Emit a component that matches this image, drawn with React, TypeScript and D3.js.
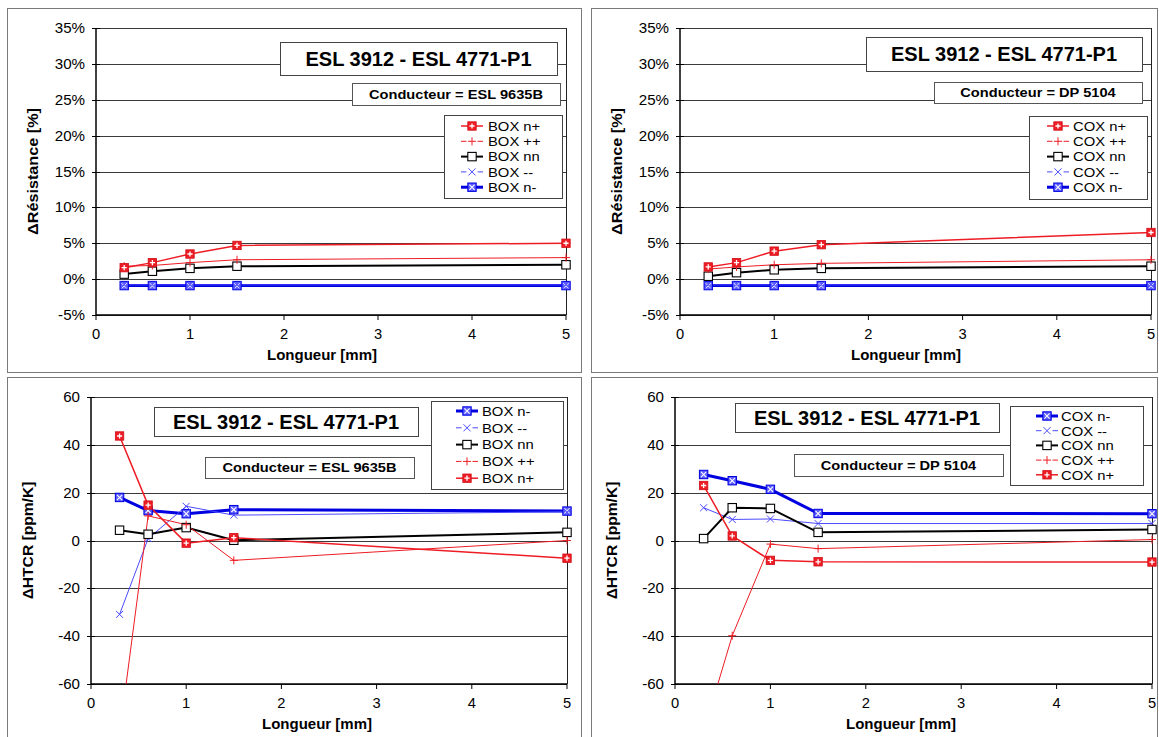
import React from 'react';
import * as d3 from 'd3';

// ---------- data ----------
const lengths = [0.3, 0.6, 1, 1.5, 5];
const xTicks = [0, 1, 2, 3, 4, 5];
const resTicks = [-5, 0, 5, 10, 15, 20, 25, 30, 35];
const htcrTicks = [-60, -40, -20, 0, 20, 40, 60];

const chartTitle = 'ESL 3912 - ESL 4771-P1';
const xTitle = 'Longueur [mm]';
const resTitle = 'ΔRésistance [%]';
const htcrTitle = 'ΔHTCR [ppm/K]';

// BOX - ΔRésistance [%]
const boxResNplus = [1.6, 2.3, 3.5, 4.7, 5.0];
const boxResPlusPlus = [1.8, 1.9, 2.3, 2.7, 3.0];
const boxResNN = [0.7, 1.1, 1.5, 1.8, 2.0];
const boxResMinusMinus = [-0.8, -0.8, -0.8, -0.8, -0.8];
const boxResNminus = [-0.9, -0.9, -0.9, -0.9, -0.9];

// COX - ΔRésistance [%]
const coxResNplus = [1.7, 2.3, 3.9, 4.8, 6.5];
const coxResPlusPlus = [1.4, 1.7, 2.0, 2.2, 2.7];
const coxResNN = [0.4, 0.9, 1.3, 1.5, 1.8];
const coxResMinusMinus = [-0.8, -0.8, -0.8, -0.8, -0.8];
const coxResNminus = [-0.9, -0.9, -0.9, -0.9, -0.9];

// BOX - ΔHTCR [ppm/K]
const boxHtcrNminus = [18.0, 12.5, 11.2, 12.9, 12.3];
const boxHtcrMinusMinus = [-30.9, 0.8, 14.3, 10.6, 12.0];
const boxHtcrNN = [4.3, 2.6, 5.4, 0.1, 3.4];
const boxHtcrPlusPlus = [-81, 10.3, 6.6, -8.3, 0.0];
const boxHtcrNplus = [43.7, 14.8, -1.1, 1.2, -7.4];

// COX - ΔHTCR [ppm/K]
const coxHtcrNminus = [27.6, 25.0, 21.4, 11.3, 11.2];
const coxHtcrMinusMinus = [13.7, 8.8, 9.0, 7.1, 7.1];
const coxHtcrNN = [0.8, 13.7, 13.4, 3.4, 4.6];
const coxHtcrPlusPlus = [-80, -39.8, -1.5, -3.4, 0.4];
const coxHtcrNplus = [23.0, 1.9, -8.3, -8.9, -9.0];

const boxLabels = ['BOX n+', 'BOX ++', 'BOX nn', 'BOX --', 'BOX n-'];
const coxLabels = ['COX n+', 'COX ++', 'COX nn', 'COX --', 'COX n-'];
const conductors = ['Conducteur = ESL 9635B', 'Conducteur = DP 5104'];

// ---------- styles ----------
const FONT = '"Liberation Sans", Arial, Helvetica, sans-serif';
const RED = '#ee1c24';
const BLUE = '#0000e0';
const LBLUE = '#4a4aff';

type Kind = 'np' | 'pp' | 'nn' | 'mm' | 'nm';
const STYLE: Record<Kind, { color: string; width: number }> = {
  np: { color: RED, width: 1.5 },
  pp: { color: RED, width: 1 },
  nn: { color: '#000', width: 2 },
  mm: { color: LBLUE, width: 1 },
  nm: { color: BLUE, width: 3 },
};

function Marker({ kind, x, y }: { kind: Kind; x: number; y: number }) {
  const s = 4.2;
  if (kind === 'np')
    return (
      <g>
        <rect x={x - s} y={y - s} width={2 * s} height={2 * s} fill={RED} stroke="#d01018" strokeWidth={0.8} />
        <path d={`M${x - 2.6},${y}H${x + 2.6}M${x},${y - 2.6}V${y + 2.6}`} stroke="#fff" strokeWidth={1.3} />
      </g>
    );
  if (kind === 'pp')
    return <path d={`M${x - 4},${y}H${x + 4}M${x},${y - 4}V${y + 4}`} stroke={RED} strokeWidth={1} />;
  if (kind === 'nn')
    return <rect x={x - s} y={y - s} width={2 * s} height={2 * s} fill="#fff" stroke="#000" strokeWidth={1.1} />;
  if (kind === 'mm')
    return <path d={`M${x - 3.5},${y - 3.5}L${x + 3.5},${y + 3.5}M${x - 3.5},${y + 3.5}L${x + 3.5},${y - 3.5}`} stroke={LBLUE} strokeWidth={1} />;
  return (
    <g>
      <rect x={x - s} y={y - s} width={2 * s} height={2 * s} fill="#5c5cff" stroke={BLUE} strokeWidth={1} />
      <path d={`M${x - 2.6},${y - 2.6}L${x + 2.6},${y + 2.6}M${x - 2.6},${y + 2.6}L${x + 2.6},${y - 2.6}`} stroke="#fff" strokeWidth={1.1} />
    </g>
  );
}

function SText({ x, y, sx = 1, size, bold = false, anchor = 'start', rot = 0, children }: any) {
  return (
    <text
      transform={`translate(${x},${y}) rotate(${rot}) scale(${sx},1)`}
      fontSize={size}
      fontWeight={bold ? 'bold' : 'normal'}
      textAnchor={anchor}
      fontFamily={FONT}
      fill="#000"
    >
      {children}
    </text>
  );
}

type Series = { kind: Kind; label: string; values: number[] };
type Rect = { x: number; y: number; w: number; h: number };

type PanelProps = {
  id: string;
  frame: Rect;
  x0: number;
  x1: number;
  yTop: number;
  yBot: number;
  yTicks: number[];
  fmt: (v: number) => string;
  yTitle: string;
  yTitleSx: number;
  legendSeries: Series[];
  titleBox: Rect;
  condBox: Rect;
  condText: string;
  legend: Rect & { first: number; step: number; mx: number; tx: number };
};

function Panel(p: PanelProps) {
  const xs = d3.scaleLinear().domain([0, 5]).range([p.x0, p.x1]);
  const ys = d3.scaleLinear().domain([p.yTicks[0], p.yTicks[p.yTicks.length - 1]]).range([p.yBot, p.yTop]);
  const line = d3
    .line<number>()
    .x((_, i) => xs(lengths[i]))
    .y((v) => ys(v));
  const drawOrder: Kind[] = ['nm', 'mm', 'nn', 'pp', 'np'];
  const sorted = drawOrder.map((k) => p.legendSeries.find((s) => s.kind === k)!);
  const [d0, d1] = ys.domain();
  const inside = (v: number) => v >= d0 && v <= d1;
  const midX = p.x0 + 226;
  return (
    <g>
      <rect x={p.frame.x + 0.5} y={p.frame.y + 0.5} width={p.frame.w} height={p.frame.h} fill="#fff" stroke="#7a7a7a" strokeWidth={1} />
      <defs>
        <clipPath id={`clip-${p.id}`}>
          <rect x={p.x0} y={p.yTop} width={p.x1 - p.x0} height={p.yBot - p.yTop} />
        </clipPath>
      </defs>
      {/* gridlines */}
      {p.yTicks.map((t) => (
        <line key={t} x1={p.x0} x2={p.x1} y1={Math.round(ys(t)) + 0.5} y2={Math.round(ys(t)) + 0.5} stroke="#3a3a3a" strokeWidth={1} />
      ))}
      <line x1={p.x1 + 0.5} x2={p.x1 + 0.5} y1={p.yTop} y2={p.yBot} stroke="#222" strokeWidth={1} />
      {/* axes */}
      <line x1={p.x0} x2={p.x0} y1={p.yTop} y2={p.yBot + 0.5} stroke="#000" strokeWidth={1.5} />
      <line x1={p.x0} x2={p.x1} y1={p.yBot} y2={p.yBot} stroke="#000" strokeWidth={1.5} />
      {p.yTicks.map((t) => (
        <g key={'yt' + t}>
          <line x1={p.x0 - 4} x2={p.x0 + 4} y1={Math.round(ys(t)) + 0.5} y2={Math.round(ys(t)) + 0.5} stroke="#000" strokeWidth={1} />
          <SText x={p.x0 - 11} y={ys(t) + 5} size={14} sx={1.08} anchor="end">
            {p.fmt(t)}
          </SText>
        </g>
      ))}
      {xTicks.map((t) => (
        <g key={'xt' + t}>
          <line x1={xs(t)} x2={xs(t)} y1={p.yBot} y2={p.yBot + 5} stroke="#000" strokeWidth={1} />
          <SText x={xs(t)} y={p.yBot + 24} size={14} sx={1.05} anchor="middle">
            {t}
          </SText>
        </g>
      ))}
      <SText x={midX} y={p.yBot + 45} size={15} bold anchor="middle">
        {xTitle}
      </SText>
      <SText x={p.x0 - 58} y={(p.yTop + p.yBot) / 2} size={15} bold anchor="middle" rot={-90} sx={p.yTitleSx}>
        {p.yTitle}
      </SText>
      {/* boxes */}
      <rect x={p.titleBox.x + 0.5} y={p.titleBox.y + 0.5} width={p.titleBox.w} height={p.titleBox.h} fill="#fff" stroke="#444" strokeWidth={1} />
      <SText x={p.titleBox.x + p.titleBox.w / 2} y={p.titleBox.y + p.titleBox.h / 2 + 7} size={20} bold anchor="middle">
        {chartTitle}
      </SText>
      <rect x={p.condBox.x + 0.5} y={p.condBox.y + 0.5} width={p.condBox.w} height={p.condBox.h} fill="#fff" stroke="#555" strokeWidth={1} />
      <SText x={p.condBox.x + p.condBox.w / 2} y={p.condBox.y + p.condBox.h / 2 + 4.5} size={12} sx={1.22} bold anchor="middle">
        {p.condText}
      </SText>
      {/* series */}
      <g clipPath={`url(#clip-${p.id})`}>
        {sorted.map((s) => (
          <path key={s.kind} d={line(s.values) || ''} fill="none" stroke={STYLE[s.kind].color} strokeWidth={STYLE[s.kind].width} strokeLinejoin="round" />
        ))}
      </g>
      {sorted.map((s) => (
        <g key={'m' + s.kind}>
          {s.values.map((v, i) => (inside(v) ? <Marker key={i} kind={s.kind} x={xs(lengths[i])} y={ys(v)} /> : null))}
        </g>
      ))}
      {/* legend */}
      <rect x={p.legend.x + 0.5} y={p.legend.y + 0.5} width={p.legend.w} height={p.legend.h} fill="#fff" stroke="#444" strokeWidth={1} />
      {p.legendSeries.map((s, i) => {
        const y = p.legend.first + i * p.legend.step;
        const thin = s.kind === 'pp' || s.kind === 'mm';
        const gap = thin ? 5.5 : 0;
        return (
          <g key={'lg' + s.kind}>
            <line x1={p.legend.mx - 11} x2={p.legend.mx - gap} y1={y} y2={y} stroke={STYLE[s.kind].color} strokeWidth={STYLE[s.kind].width} />
            <line x1={p.legend.mx + gap} x2={p.legend.mx + 11} y1={y} y2={y} stroke={STYLE[s.kind].color} strokeWidth={STYLE[s.kind].width} />
            <Marker kind={s.kind} x={p.legend.mx} y={y} />
            <SText x={p.legend.tx} y={y + 4.8} size={13} sx={1.14}>
              {s.label}
            </SText>
          </g>
        );
      })}
    </g>
  );
}

const pct = (v: number) => `${v}%`;
const num = (v: number) => `${v}`;

export default function App() {
  const boxRes: Series[] = [
    { kind: 'np', label: boxLabels[0], values: boxResNplus },
    { kind: 'pp', label: boxLabels[1], values: boxResPlusPlus },
    { kind: 'nn', label: boxLabels[2], values: boxResNN },
    { kind: 'mm', label: boxLabels[3], values: boxResMinusMinus },
    { kind: 'nm', label: boxLabels[4], values: boxResNminus },
  ];
  const coxRes: Series[] = [
    { kind: 'np', label: coxLabels[0], values: coxResNplus },
    { kind: 'pp', label: coxLabels[1], values: coxResPlusPlus },
    { kind: 'nn', label: coxLabels[2], values: coxResNN },
    { kind: 'mm', label: coxLabels[3], values: coxResMinusMinus },
    { kind: 'nm', label: coxLabels[4], values: coxResNminus },
  ];
  const boxHtcr: Series[] = [
    { kind: 'nm', label: boxLabels[4], values: boxHtcrNminus },
    { kind: 'mm', label: boxLabels[3], values: boxHtcrMinusMinus },
    { kind: 'nn', label: boxLabels[2], values: boxHtcrNN },
    { kind: 'pp', label: boxLabels[1], values: boxHtcrPlusPlus },
    { kind: 'np', label: boxLabels[0], values: boxHtcrNplus },
  ];
  const coxHtcr: Series[] = [
    { kind: 'nm', label: coxLabels[4], values: coxHtcrNminus },
    { kind: 'mm', label: coxLabels[3], values: coxHtcrMinusMinus },
    { kind: 'nn', label: coxLabels[2], values: coxHtcrNN },
    { kind: 'pp', label: coxLabels[1], values: coxHtcrPlusPlus },
    { kind: 'np', label: coxLabels[0], values: coxHtcrNplus },
  ];
  return (
    <svg width={1159} height={737} style={{ position: 'absolute', left: 0, top: 0, background: '#fff' }}>
      <rect x={0} y={0} width={1159} height={737} fill="#fff" />
      <Panel
        id="tl"
        frame={{ x: 7, y: 8, w: 574, h: 364 }}
        x0={96}
        x1={566}
        yTop={28}
        yBot={315}
        yTicks={resTicks}
        fmt={pct}
        yTitle={resTitle}
        yTitleSx={1.08}
        legendSeries={boxRes}
        titleBox={{ x: 280, y: 42, w: 277, h: 33 }}
        condBox={{ x: 352, y: 83, w: 208, h: 22 }}
        condText={conductors[0]}
        legend={{ x: 444, y: 115, w: 118, h: 83, first: 126, step: 15.3, mx: 472, tx: 488 }}
      />
      <Panel
        id="tr"
        frame={{ x: 591, y: 8, w: 566, h: 364 }}
        x0={680}
        x1={1151}
        yTop={28}
        yBot={315}
        yTicks={resTicks}
        fmt={pct}
        yTitle={resTitle}
        yTitleSx={1.08}
        legendSeries={coxRes}
        titleBox={{ x: 866, y: 37, w: 276, h: 34 }}
        condBox={{ x: 934, y: 82, w: 208, h: 21 }}
        condText={conductors[1]}
        legend={{ x: 1029, y: 116, w: 118, h: 83, first: 126, step: 15.3, mx: 1058, tx: 1073 }}
      />
      <Panel
        id="bl"
        frame={{ x: 7, y: 377, w: 574, h: 370 }}
        x0={91}
        x1={567}
        yTop={397}
        yBot={684}
        yTicks={htcrTicks}
        fmt={num}
        yTitle={htcrTitle}
        yTitleSx={1.04}
        legendSeries={boxHtcr}
        titleBox={{ x: 154, y: 407, w: 264, h: 29 }}
        condBox={{ x: 205, y: 457, w: 209, h: 21 }}
        condText={conductors[0]}
        legend={{ x: 431, y: 401, w: 132, h: 88, first: 411, step: 16.8, mx: 467, tx: 482 }}
      />
      <Panel
        id="br"
        frame={{ x: 591, y: 377, w: 566, h: 370 }}
        x0={675}
        x1={1152}
        yTop={397}
        yBot={684}
        yTicks={htcrTicks}
        fmt={num}
        yTitle={htcrTitle}
        yTitleSx={1.04}
        legendSeries={coxHtcr}
        titleBox={{ x: 735, y: 403, w: 264, h: 29 }}
        condBox={{ x: 794, y: 454, w: 209, h: 22 }}
        condText={conductors[1]}
        legend={{ x: 1010, y: 406, w: 133, h: 79, first: 416, step: 14.7, mx: 1047, tx: 1061 }}
      />
    </svg>
  );
}
